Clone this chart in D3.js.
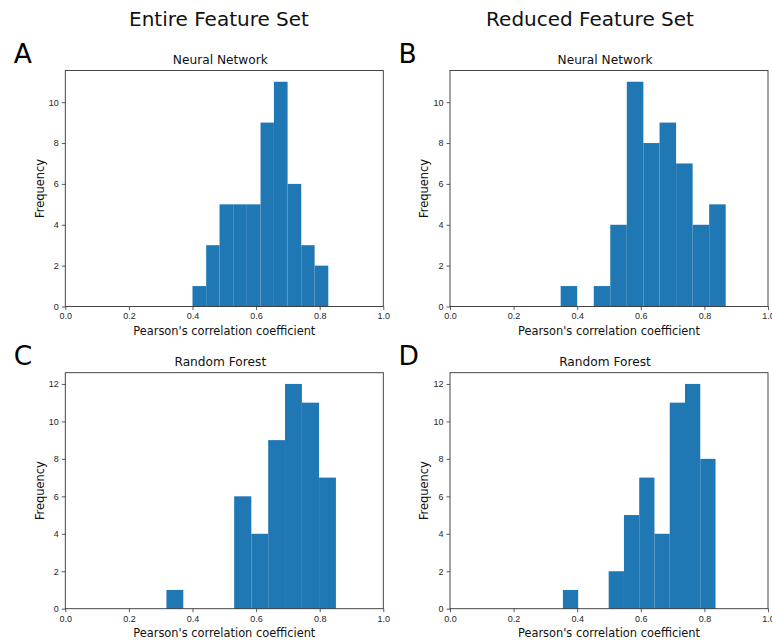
<!DOCTYPE html>
<html>
<head>
<meta charset="utf-8">
<script src="https://cdn.jsdelivr.net/npm/d3@7"></script>
<style>
  body { margin: 0; background: #fff; }
  svg { display: block; font-family: "DejaVu Sans", sans-serif; }
  .tick text { font-size: 9px; fill: #262626; }
  .tick line { stroke: #333; stroke-width: 0.8; }
</style>
</head>
<body>
<div id="chart"></div>
<script>
// histogram counts and bin edges
var nnEntireCounts = [1, 3, 5, 5, 5, 9, 11, 6, 3, 2];
var nnEntireEdges = [0.400, 0.443, 0.485, 0.528, 0.571, 0.614, 0.656, 0.699, 0.742, 0.784, 0.827];
var nnReducedCounts = [1, 0, 1, 4, 11, 8, 9, 7, 4, 5];
var nnReducedEdges = [0.348, 0.400, 0.452, 0.504, 0.556, 0.608, 0.659, 0.711, 0.763, 0.815, 0.867];
var rfEntireCounts = [1, 0, 0, 0, 6, 4, 9, 12, 11, 7];
var rfEntireEdges = [0.318, 0.371, 0.425, 0.478, 0.531, 0.585, 0.638, 0.691, 0.744, 0.798, 0.851];
var rfReducedCounts = [1, 0, 0, 2, 5, 7, 4, 11, 12, 8];
var rfReducedEdges = [0.355, 0.403, 0.451, 0.499, 0.547, 0.595, 0.643, 0.691, 0.739, 0.787, 0.835];

var xTicks = [0, 0.2, 0.4, 0.6, 0.8, 1.0];
var yTicksNN = [0, 2, 4, 6, 8, 10];
var yTicksRF = [0, 2, 4, 6, 8, 10, 12];

var columnTitles = ["Entire Feature Set", "Reduced Feature Set"];

var W = 772, H = 640;
var svg = d3.select("#chart").append("svg")
    .attr("width", W)
    .attr("height", H);

var panels = [
    { letter: "A", title: "Neural Network", counts: nnEntireCounts, edges: nnEntireEdges, yTicks: yTicksNN, x0: 65.3, y0: 70.5 },
    { letter: "B", title: "Neural Network", counts: nnReducedCounts, edges: nnReducedEdges, yTicks: yTicksNN, x0: 450, y0: 70.5 },
    { letter: "C", title: "Random Forest", counts: rfEntireCounts, edges: rfEntireEdges, yTicks: yTicksRF, x0: 65.3, y0: 372.7 },
    { letter: "D", title: "Random Forest", counts: rfReducedCounts, edges: rfReducedEdges, yTicks: yTicksRF, x0: 450, y0: 372.7 }
];
var pw = 318, ph = 236;

// column headers
svg.selectAll("text.coltitle")
    .data(columnTitles)
    .enter()
    .append("text")
    .attr("class", "coltitle")
    .attr("x", function (d, i) { return i == 0 ? 219 : 590; })
    .attr("y", 26)
    .attr("text-anchor", "middle")
    .style("font-size", "20px")
    .style("fill", "#111")
    .text(function (d) { return d; });

function drawPanel(p) {
    var g = svg.append("g").attr("transform", "translate(" + p.x0 + "," + p.y0 + ")");
    var x = d3.scaleLinear().domain([0, 1]).range([0, pw]);
    var y = d3.scaleLinear().domain([0, d3.max(p.counts) * 1.05]).range([ph, 0]);

    var bins = p.counts.map(function (c, i) { return { x0: p.edges[i], x1: p.edges[i + 1], n: c }; });
    g.selectAll("rect.bar")
        .data(bins.filter(function (b) { return b.n > 0; }))
        .enter()
        .append("rect")
        .attr("class", "bar")
        .attr("x", function (b) { return x(b.x0); })
        .attr("width", function (b) { return x(b.x1) - x(b.x0); })
        .attr("y", function (b) { return y(b.n); })
        .attr("height", function (b) { return y(0) - y(b.n); })
        .attr("fill", "#1f77b4");

    var xAxis = g.append("g")
        .attr("transform", "translate(0," + ph + ")")
        .call(d3.axisBottom(x).tickValues(xTicks).tickFormat(d3.format(".1f")).tickSize(3.5).tickPadding(3));
    xAxis.select(".domain").remove();

    var yAxis = g.append("g")
        .call(d3.axisLeft(y).tickValues(p.yTicks).tickSize(3.5).tickPadding(3));
    yAxis.select(".domain").remove();

    // frame
    g.append("rect")
        .attr("width", pw)
        .attr("height", ph)
        .attr("fill", "none")
        .attr("stroke", "#333")
        .attr("stroke-width", 0.9);

    g.append("text")
        .attr("x", pw / 2 - 4)
        .attr("y", -7)
        .attr("text-anchor", "middle")
        .style("font-size", "12.2px")
        .style("fill", "#111")
        .text(p.title);

    g.append("text")
        .attr("x", pw / 2)
        .attr("y", ph + 28.8)
        .attr("text-anchor", "middle")
        .style("font-size", "11.4px")
        .style("fill", "#111")
        .text("Pearson's correlation coefficient");

    g.append("text")
        .attr("transform", "translate(-21.8," + (ph / 2) + ") rotate(-90)")
        .attr("text-anchor", "middle")
        .style("font-size", "11.4px")
        .style("fill", "#111")
        .text("Frequency");

    // panel letter
    svg.append("text")
        .attr("x", p.x0 - 51.5)
        .attr("y", p.y0 - 8)
        .style("font-size", "26.5px")
        .style("fill", "#000")
        .text(p.letter);
}

panels.forEach(drawPanel);
</script>
</body>
</html>
